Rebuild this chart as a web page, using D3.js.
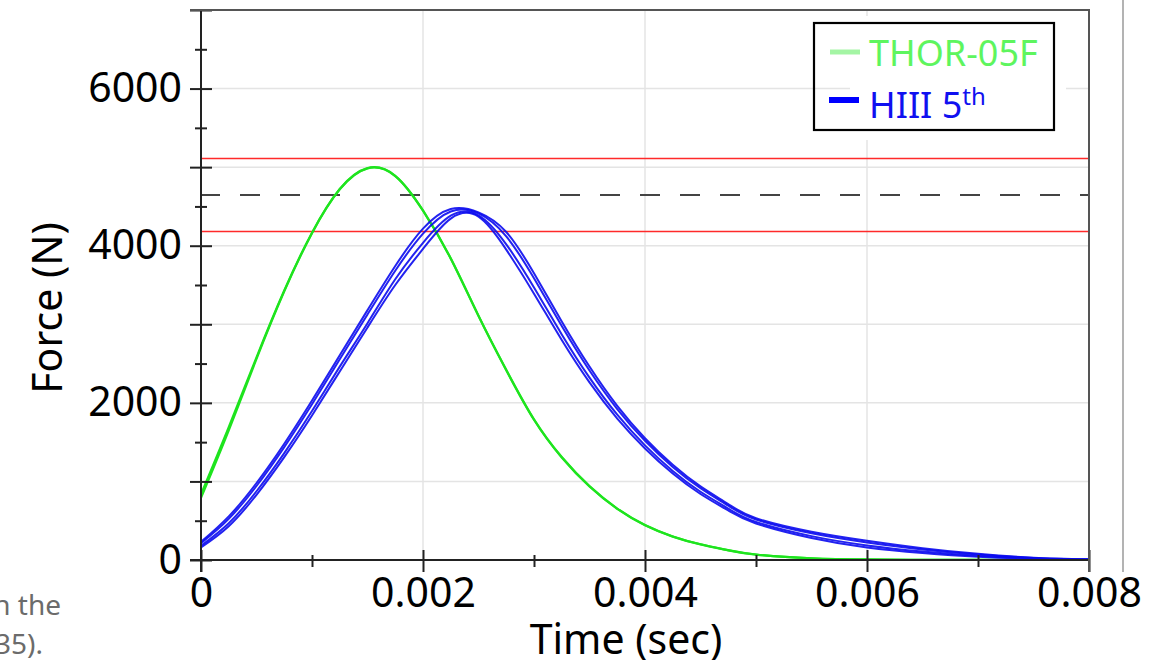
<!DOCTYPE html>
<html>
<head>
<meta charset="utf-8">
<script src="https://cdn.jsdelivr.net/npm/d3@7"></script>
<style>
  html, body { margin: 0; padding: 0; background: #fff; }
  svg { display: block; font-family: "Noto Sans", "Open Sans", sans-serif; }
</style>
</head>
<body>
<svg id="chart" width="1157" height="660"></svg>
<script>
// ---- Data ----
const timeSec = [0, 0.00025, 0.0005, 0.00075, 0.001, 0.00125, 0.0015, 0.00175, 0.002, 0.00225,
  0.0025, 0.00275, 0.003, 0.00325, 0.0035, 0.00375, 0.004, 0.00425, 0.0045, 0.00475,
  0.005, 0.0055, 0.006, 0.0065, 0.007, 0.0075, 0.008];

const thorRunA = [835, 1690, 2580, 3430, 4165, 4722, 4988, 4890, 4450, 3840,
  3110, 2420, 1790, 1310, 940, 655, 445, 300, 200, 125,
  70, 22, 7, 2, 1, 0, 0];
const thorRunB = [790, 1650, 2560, 3420, 4160, 4718, 4985, 4886, 4445, 3835,
  3105, 2415, 1785, 1305, 935, 651, 442, 298, 198, 123,
  68, 21, 6, 2, 1, 0, 0];

const hiiiRunA = [230, 555, 980, 1480, 2030, 2605, 3180, 3742, 4217, 4467,
  4425, 4175, 3650, 3037, 2462, 1962, 1550, 1212, 937, 712,
  532, 360, 245, 150, 78, 30, 8];
const hiiiRunB = [212, 524, 942, 1437, 1982, 2554, 3125, 3682, 4153, 4436,
  4411, 4119, 3585, 2978, 2411, 1921, 1517, 1184, 913, 691,
  515, 340, 224, 135, 69, 27, 7];
const hiiiRunC = [181, 468, 875, 1361, 1897, 2461, 3014, 3573, 4037, 4382,
  4387, 4017, 3468, 2871, 2321, 1849, 1459, 1134, 869, 655,
  485, 304, 186, 108, 53, 20, 6];
const hiiiRunD = [160, 430, 830, 1310, 1840, 2400, 2960, 3500, 3960, 4345,
  4370, 3950, 3390, 2800, 2260, 1800, 1420, 1100, 840, 630,
  465, 280, 160, 90, 42, 16, 5];

const meanForce = 4645;
const corridorForce = [4180, 5110];

const yLabelTicks = [0, 2000, 4000, 6000];
const yMajorTicks = [0, 1000, 2000, 3000, 4000, 5000, 6000, 7000];
const yMinorTicks = [500, 1500, 2500, 3500, 4500, 5500, 6500];
const yGridTicks = [1000, 2000, 3000, 4000, 5000, 6000];
const xLabelTicks = [0, 0.002, 0.004, 0.006, 0.008];
const xMinorTicks = [0.001, 0.003, 0.005, 0.007];
const xGridTicks = [0.002, 0.004, 0.006];

const legendNames = ["THOR-05F", "HIII 5"];
const xTitle = "Time (sec)";
const yTitle = "Force (N)";
const sideText = ["in the", "(2035)."];

// ---- Drawing ----
const svg = d3.select("#chart");
const x = d3.scaleLinear().domain([0, 0.008]).range([201, 1089]);
const y = d3.scaleLinear().domain([0, 7000]).range([560, 10]);
const x0 = x.range()[0], x1 = x.range()[1];
const yBot = y.range()[0], yTop = y.range()[1];

// slide remnants
svg.append("line").attr("x1", 1123).attr("x2", 1123).attr("y1", 0).attr("y2", 572)
  .attr("stroke", "#9a9a9a").attr("stroke-width", 1.5);
svg.append("text").attr("x", 61).attr("y", 615).attr("text-anchor", "end")
  .attr("font-size", 28).attr("fill", "#6b6b6b").text(sideText[0]);
svg.append("text").attr("x", 43).attr("y", 654).attr("text-anchor", "end")
  .attr("font-size", 28).attr("fill", "#6b6b6b").text(sideText[1]);

// gridlines
svg.append("g").selectAll("line").data(yGridTicks).join("line")
  .attr("x1", x0).attr("x2", x1).attr("y1", d => y(d)).attr("y2", d => y(d))
  .attr("stroke", "#e4e4e4").attr("stroke-width", 1.5);
svg.append("g").selectAll("line").data(xGridTicks).join("line")
  .attr("x1", d => x(d)).attr("x2", d => x(d)).attr("y1", yTop).attr("y2", yBot)
  .attr("stroke", "#e4e4e4").attr("stroke-width", 1.5);

// legend background (covers gridlines)
svg.append("rect").attr("x", 850).attr("y", 16).attr("width", 216).attr("height", 124)
  .attr("fill", "#fff");

// reference lines
svg.append("g").selectAll("line").data(corridorForce).join("line")
  .attr("x1", x0).attr("x2", x1).attr("y1", d => y(d)).attr("y2", d => y(d))
  .attr("stroke", "#ff2a2a").attr("stroke-width", 1.6);
svg.append("line").attr("x1", x0 - 1).attr("x2", x1).attr("y1", y(meanForce)).attr("y2", y(meanForce))
  .attr("stroke", "#444").attr("stroke-width", 2).attr("stroke-dasharray", "20,20");

// curves
const line = d3.line().x((d, i) => x(timeSec[i])).y(d => y(d))
  .curve(d3.curveNatural);
const blueRuns = [hiiiRunA, hiiiRunB, hiiiRunC, hiiiRunD];
const greenRuns = [thorRunA, thorRunB];
svg.append("defs").append("clipPath").attr("id", "plotClip")
  .append("rect").attr("x", x0).attr("y", yTop).attr("width", x1 - x0).attr("height", yBot - yTop + 1);
const curves = svg.append("g").attr("clip-path", "url(#plotClip)");
curves.append("g").selectAll("path").data(greenRuns).join("path")
  .attr("d", line).attr("fill", "none").attr("stroke", "#1ee41e").attr("stroke-width", 2.2);
curves.append("g").selectAll("path").data(blueRuns).join("path")
  .attr("d", line).attr("fill", "none").attr("stroke", "#0a0aee").attr("stroke-width", 2)
  .attr("stroke-opacity", 0.9);

// axes
function styleAxis(g) {
  g.select(".domain").remove();
  g.selectAll(".tick line").attr("stroke", "#222").attr("stroke-width", 2);
  g.selectAll("text").attr("fill", "#000").attr("font-size", 41)
    .attr("font-family", "'Noto Sans', 'Open Sans', sans-serif");
}
svg.append("g").attr("transform", `translate(${x0},0)`)
  .call(d3.axisLeft(y).tickValues(yMajorTicks).tickSize(11).tickFormat("")).call(styleAxis);
svg.append("g").attr("transform", `translate(${x0},0)`)
  .call(d3.axisRight(y).tickValues(yMajorTicks).tickSize(11).tickFormat("")).call(styleAxis);
svg.append("g").attr("transform", `translate(${x0},0)`)
  .call(d3.axisLeft(y).tickValues(yMinorTicks).tickSize(6).tickFormat("")).call(styleAxis);
svg.append("g").attr("transform", `translate(${x0},0)`)
  .call(d3.axisRight(y).tickValues(yMinorTicks).tickSize(6).tickFormat("")).call(styleAxis);
svg.append("g").attr("transform", `translate(${x0},0)`)
  .call(d3.axisLeft(y).tickValues(yLabelTicks).tickSize(0).tickPadding(19).tickFormat(d3.format("d")))
  .call(styleAxis);

svg.append("g").attr("transform", `translate(0,${yBot})`)
  .call(d3.axisBottom(x).tickValues(xLabelTicks).tickSize(12).tickFormat("")).call(styleAxis);
svg.append("g").attr("transform", `translate(0,${yBot})`)
  .call(d3.axisTop(x).tickValues(xLabelTicks).tickSize(10).tickFormat("")).call(styleAxis);
svg.append("g").attr("transform", `translate(0,${yBot})`)
  .call(d3.axisBottom(x).tickValues(xMinorTicks).tickSize(7).tickFormat("")).call(styleAxis);
svg.append("g").attr("transform", `translate(0,${yBot})`)
  .call(d3.axisTop(x).tickValues(xMinorTicks).tickSize(5).tickFormat("")).call(styleAxis);
svg.append("g").attr("transform", `translate(0,${yBot})`)
  .call(d3.axisBottom(x).tickValues(xLabelTicks).tickSize(0).tickPadding(18)
    .tickFormat(d => d === 0 ? "0" : d3.format(".3f")(d)))
  .call(styleAxis);

// axis lines and frame
svg.append("line").attr("x1", x0).attr("x2", x0).attr("y1", yTop).attr("y2", yBot + 12)
  .attr("stroke", "#222").attr("stroke-width", 2);
svg.append("line").attr("x1", x0 - 11).attr("x2", x1).attr("y1", yBot).attr("y2", yBot)
  .attr("stroke", "#222").attr("stroke-width", 2);
svg.append("line").attr("x1", x0 - 11).attr("x2", x1 + 1).attr("y1", yTop).attr("y2", yTop)
  .attr("stroke", "#555").attr("stroke-width", 2);
svg.append("line").attr("x1", x1).attr("x2", x1).attr("y1", yTop).attr("y2", yBot + 12)
  .attr("stroke", "#555").attr("stroke-width", 2);

// axis titles
svg.append("text").attr("x", 626).attr("y", 654).attr("text-anchor", "middle")
  .attr("font-size", 41).attr("fill", "#000").text(xTitle);
svg.append("text").attr("transform", "translate(62,308) rotate(-90)").attr("text-anchor", "middle")
  .attr("font-size", 41).attr("fill", "#000").text(yTitle);

// legend
const lg = svg.append("g");
lg.append("rect").attr("x", 814).attr("y", 23).attr("width", 240).attr("height", 107)
  .attr("fill", "none").attr("stroke", "#000").attr("stroke-width", 2.2);
lg.append("line").attr("x1", 830).attr("x2", 860).attr("y1", 52).attr("y2", 52)
  .attr("stroke", "#a4f5a4").attr("stroke-width", 5);
lg.append("line").attr("x1", 829).attr("x2", 859).attr("y1", 100).attr("y2", 100)
  .attr("stroke", "#0000ff").attr("stroke-width", 6);
lg.append("text").attr("x", 869).attr("y", 66).attr("font-size", 36).attr("fill", "#5ef55e")
  .text(legendNames[0]);
const t2 = lg.append("text").attr("x", 869).attr("y", 118).attr("font-size", 36).attr("fill", "#1010f0");
t2.append("tspan").text(legendNames[1]);
t2.append("tspan").attr("dy", -13).attr("font-size", 24).text("th");
</script>
</body>
</html>
